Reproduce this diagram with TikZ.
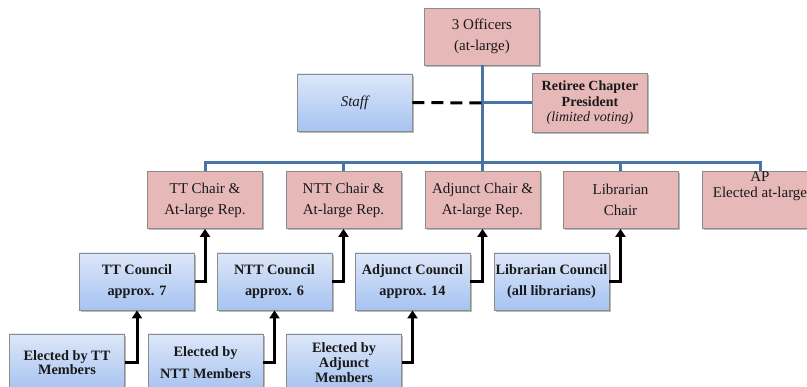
\documentclass[tikz,border=0pt]{standalone}
\usepackage{fontspec}
\setmainfont{Liberation Serif}
\usetikzlibrary{shadows,arrows.meta}
\definecolor{pinkfill}{HTML}{E6B9B8}
\definecolor{bluetop}{HTML}{DDE7F9}
\definecolor{bluebot}{HTML}{A6C3F1}
\definecolor{linkblue}{HTML}{4A74A8}
\definecolor{boxedge}{HTML}{8C8C8C}
\tikzset{
  box/.style={draw=boxedge, line width=0.8pt, minimum width=115pt, minimum height=57pt,
    inner sep=1pt, align=center, text=black!90, drop shadow={shadow xshift=1.8pt, shadow yshift=-1.8pt, opacity=0.45, fill=black!60}},
  pinkbox/.style={box, fill=pinkfill, font=\fontsize{15}{21}\selectfont},
  bluebox/.style={box, top color=bluetop, bottom color=bluebot, font=\fontsize{14.3}{21}\selectfont\bfseries},
  link/.style={draw=linkblue, line width=3pt},
  arr/.style={draw=black, line width=3pt, -{Triangle[width=10pt,length=8pt]}},
  dashlink/.style={draw=black, line width=3pt, dash pattern=on 12pt off 7pt}
}
\begin{document}
\begin{tikzpicture}[x=1pt,y=-1pt]
\useasboundingbox (0,0) rectangle (807,387);
% top level
\node[pinkbox] (off) at (482,36.5) {3 Officers\\(at-large)};
\node[bluebox, font=\fontsize{15}{21}\selectfont\itshape] (staff) at (354.5,102.5) {Staff};
\node[pinkbox, minimum height=59pt, font=\fontsize{14}{15.5}\selectfont] (ret) at (590,103) {\textbf{Retiree Chapter}\\\textbf{President}\\\textit{(limited voting)}};
% chairs
\node[pinkbox] (ttch) at (205,200) {TT Chair \&\\At-large Rep.};
\node[pinkbox] (ntch) at (343.5,200) {NTT Chair \&\\At-large Rep.};
\node[pinkbox] (adch) at (482.5,200) {Adjunct Chair \&\\At-large Rep.};
\node[pinkbox] (lbch) at (620.5,200) {Librarian\\Chair};
\node[pinkbox, minimum width=116pt] (ap) at (760,200) {};
\node[anchor=north, align=center, inner sep=0pt, text=black!90, font=\fontsize{15}{15.5}\selectfont] (aptext) at ([yshift=-0.5pt]ap.north) {AP\\Elected at-large};
% councils
\node[bluebox] (ttc) at (137,281.5) {TT Council\\approx. 7};
\node[bluebox] (ntc) at (274.5,281.5) {NTT Council\\approx. 6};
\node[bluebox] (adc) at (412.5,281.5) {Adjunct Council\\approx. 14};
\node[bluebox] (lbc) at (551.5,281.5) {Librarian Council\\(all librarians)};
% electorates
\node[bluebox, font=\fontsize{14.3}{14.5}\selectfont\bfseries] (ett) at (67,362.5) {Elected by TT\\Members};
\node[bluebox, font=\fontsize{14.3}{21.5}\selectfont\bfseries] (ent) at (205.5,362.5) {Elected by\\NTT Members};
\node[bluebox, font=\fontsize{14.3}{15}\selectfont\bfseries] (ead) at (344,362.5) {Elected by\\Adjunct\\Members};
% blue hierarchy
\coordinate (hub) at (482,163);
\coordinate (mid) at (482,103);
\draw[link] (off.south) -- (hub);
\draw[link] (mid) -- (ret.west);
\draw[link] (ttch.north) |- (hub) -| (ap.north);
\draw[link] (ntch.north) -- (ntch.north |- hub);
\draw[link] (adch.north) -- (adch.north |- hub);
\draw[link] (lbch.north) -- (lbch.north |- hub);
\draw[dashlink] (staff.east) -- (mid);
% black arrows
\draw[arr] (ttc.east) -| (ttch.south);
\draw[arr] (ntc.east) -| (ntch.south);
\draw[arr] (adc.east) -| (adch.south);
\draw[arr] (lbc.east) -| (lbch.south);
\draw[arr] (ett.east) -| (ttc.south);
\draw[arr] (ent.east) -| (ntc.south);
\draw[arr] (ead.east) -| (adc.south);
\end{tikzpicture}
\end{document}
